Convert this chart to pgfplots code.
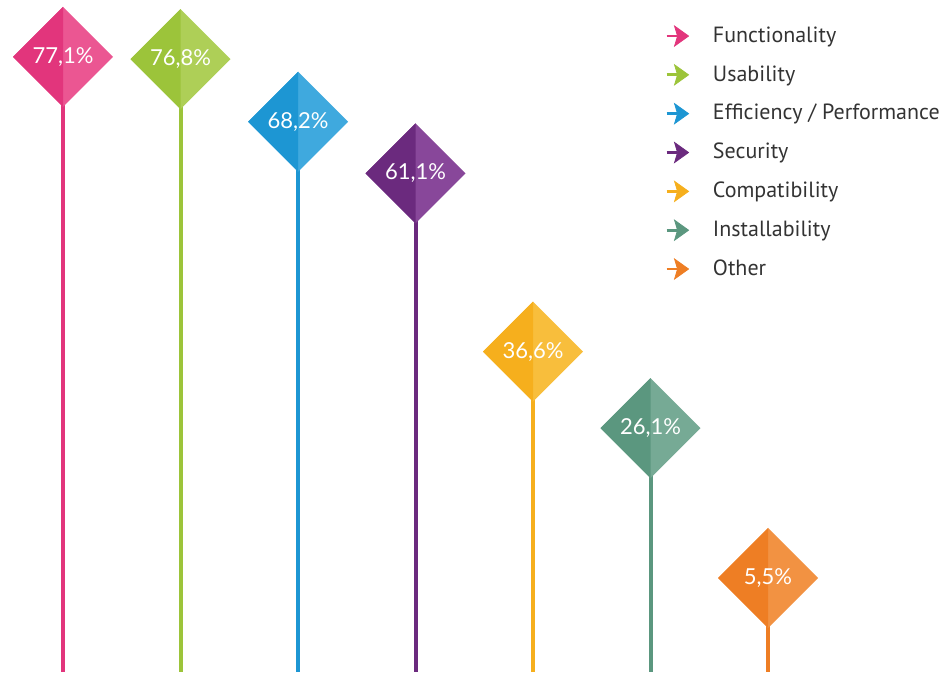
\documentclass[border=0pt]{standalone}
\usepackage{pgfplots}
\pgfplotsset{compat=1.18}
\usepackage{fontspec}
\setmainfont{PT Sans}
\newfontfamily\labfont{Lato}

\definecolor{pinkD}{HTML}{E2357C}
\definecolor{pinkL}{HTML}{EB5692}
\definecolor{greenD}{HTML}{9CC43A}
\definecolor{greenL}{HTML}{AECF57}
\definecolor{blueD}{HTML}{1D96D3}
\definecolor{blueL}{HTML}{3FA9DE}
\definecolor{purpD}{HTML}{6B2A7E}
\definecolor{purpL}{HTML}{88479A}
\definecolor{yellD}{HTML}{F6AF1D}
\definecolor{yellL}{HTML}{F8BE3C}
\definecolor{tealD}{HTML}{5B977F}
\definecolor{tealL}{HTML}{76AA95}
\definecolor{orD}{HTML}{EE7E24}
\definecolor{orL}{HTML}{F29242}
\definecolor{legtext}{HTML}{333333}

\pgfdeclareplotmark{dfull}{%
  \pgfpathmoveto{\pgfqpoint{0pt}{\pgfplotmarksize}}%
  \pgfpathlineto{\pgfqpoint{-\pgfplotmarksize}{0pt}}%
  \pgfpathlineto{\pgfqpoint{0pt}{-\pgfplotmarksize}}%
  \pgfpathlineto{\pgfqpoint{\pgfplotmarksize}{0pt}}%
  \pgfpathclose\pgfusepathqfill}
\pgfdeclareplotmark{dleft}{%
  \pgfpathmoveto{\pgfqpoint{0pt}{\pgfplotmarksize}}%
  \pgfpathlineto{\pgfqpoint{-\pgfplotmarksize}{0pt}}%
  \pgfpathlineto{\pgfqpoint{0pt}{-\pgfplotmarksize}}%
  \pgfpathclose\pgfusepathqfill}

\pgfplotsset{
  stem/.style={line width=2pt, forget plot},
  dlight/.style={only marks, mark=dfull, mark size=25pt, mark options={fill=#1, draw=none}, forget plot},
  ddark/.style={only marks, mark=dleft, mark size=25pt, mark options={fill=#1, draw=none}, forget plot,
    nodes near coords align=center,
    every node near coord/.style={anchor=center, text=white, font=\labfont\fontsize{11}{13}\selectfont}},
  legarrow/.style={legend image code/.code={
     \draw[line width=1.4pt,#1] (0pt,0pt) -- (5pt,0pt);
     \fill[#1] (4pt,5pt) -- (11pt,0pt) -- (4pt,-5pt) -- (5.5pt,0pt) -- cycle;}},
}

\begin{document}
\begin{tikzpicture}
\begin{axis}[
  scale only axis,
  width=475.5pt, height=339pt,
  xmin=0.4638, xmax=8.557,
  ymin=-8.25, ymax=84.93,
  hide axis, clip=false,
  legend style={at={(axis description cs:0.699,0.967)}, anchor=north west,
    draw=none, fill=none, font=\fontsize{11}{13}\selectfont\color{legtext},
    row sep=6.1pt, inner sep=0pt,
    /tikz/every even column/.append style={column sep=0pt}},
  legend cell align=left,
]
% Functionality
\addplot[stem, pinkD] coordinates {(1,-7.4) (1,77.1)};
\addplot[dlight=pinkL] coordinates {(1,77.1)};
\addplot[ddark=pinkD, nodes near coords={77,1\%}] coordinates {(1,77.1)};
% Usability
\addplot[stem, greenD] coordinates {(2,-7.4) (2,76.8)};
\addplot[dlight=greenL] coordinates {(2,76.8)};
\addplot[ddark=greenD, nodes near coords={76,8\%}] coordinates {(2,76.8)};
% Efficiency
\addplot[stem, blueD] coordinates {(3,-7.4) (3,68.2)};
\addplot[dlight=blueL] coordinates {(3,68.2)};
\addplot[ddark=blueD, nodes near coords={68,2\%}] coordinates {(3,68.2)};
% Security
\addplot[stem, purpD] coordinates {(4,-7.4) (4,61.1)};
\addplot[dlight=purpL] coordinates {(4,61.1)};
\addplot[ddark=purpD, nodes near coords={61,1\%}] coordinates {(4,61.1)};
% Compatibility
\addplot[stem, yellD] coordinates {(5,-7.4) (5,36.6)};
\addplot[dlight=yellL] coordinates {(5,36.6)};
\addplot[ddark=yellD, nodes near coords={36,6\%}] coordinates {(5,36.6)};
% Installability
\addplot[stem, tealD] coordinates {(6,-7.4) (6,26.1)};
\addplot[dlight=tealL] coordinates {(6,26.1)};
\addplot[ddark=tealD, nodes near coords={26,1\%}] coordinates {(6,26.1)};
% Other
\addplot[stem, orD] coordinates {(7,-7.4) (7,5.5)};
\addplot[dlight=orL] coordinates {(7,5.5)};
\addplot[ddark=orD, nodes near coords={5,5\%}] coordinates {(7,5.5)};

\addlegendimage{legarrow=pinkD}
\addlegendentry{\hspace{10pt}Functionality}
\addlegendimage{legarrow=greenD}
\addlegendentry{\hspace{10pt}Usability}
\addlegendimage{legarrow=blueD}
\addlegendentry{\hspace{10pt}Efficiency / Performance}
\addlegendimage{legarrow=purpD}
\addlegendentry{\hspace{10pt}Security}
\addlegendimage{legarrow=yellD}
\addlegendentry{\hspace{10pt}Compatibility}
\addlegendimage{legarrow=tealD}
\addlegendentry{\hspace{10pt}Installability}
\addlegendimage{legarrow=orD}
\addlegendentry{\hspace{10pt}Other}
\end{axis}
\pgfresetboundingbox
\path[use as bounding box] (current axis.south west) rectangle (current axis.north east);
\end{tikzpicture}
\end{document}
